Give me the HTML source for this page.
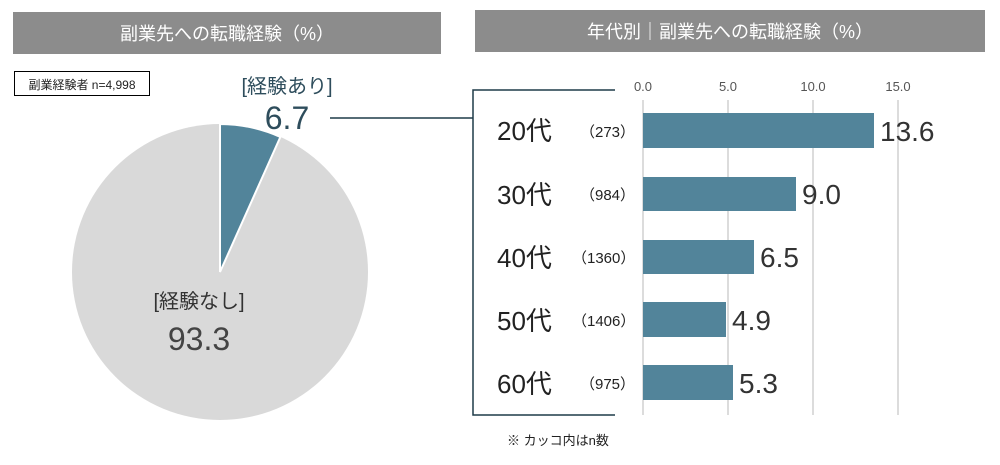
<!DOCTYPE html>
<html><head><meta charset="utf-8"><style>
body{margin:0;width:1000px;height:460px;background:#fff;overflow:hidden;font-family:"Liberation Sans","Noto Sans CJK JP",sans-serif}
</style></head><body>
<svg width="1000" height="460" xmlns="http://www.w3.org/2000/svg" font-family="Liberation Sans, Noto Sans CJK JP, sans-serif">
<rect x="13" y="12" width="428" height="42" fill="#8c8c8c"/>
<text x="227" y="40" fill="#fff" font-size="18" text-anchor="middle">副業先への転職経験（%）</text>
<rect x="475" y="10" width="510" height="42" fill="#8c8c8c"/>
<text x="730" y="38" fill="#fff" font-size="18" text-anchor="middle">年代別｜副業先への転職経験（%）</text>
<rect x="14.5" y="71.5" width="135" height="24" fill="#fff" stroke="#000"/>
<text x="82" y="89" font-size="12" text-anchor="middle" fill="#222">副業経験者 n=4,998</text>
<circle cx="220" cy="272" r="148" fill="#d9d9d9"/>
<path d="M220,272 L220,124 A148,148 0 0 1 280.4,136.9 Z" fill="#52849a" stroke="#fff" stroke-width="2"/>
<text x="287" y="93" font-size="20" fill="#2e4d5c" text-anchor="middle">[経験あり]</text>
<text x="287" y="129" font-size="32" fill="#2e4d5c" text-anchor="middle">6.7</text>
<text x="199" y="308" font-size="20" fill="#333" text-anchor="middle">[経験なし]</text>
<text x="199" y="350" font-size="32" fill="#444" text-anchor="middle">93.3</text>
<path d="M330,118 H473 M615,90 H473 V415 H615" stroke="#1f3b48" stroke-width="1.5" fill="none"/>
<g stroke="#d0d0d0" stroke-width="1.5">
<line x1="643" y1="100" x2="643" y2="415"/><line x1="728" y1="100" x2="728" y2="415"/>
<line x1="813" y1="100" x2="813" y2="415"/><line x1="898" y1="100" x2="898" y2="415"/></g>
<g font-size="13" fill="#555" text-anchor="middle">
<text x="643" y="91">0.0</text><text x="728" y="91">5.0</text><text x="813" y="91">10.0</text><text x="898" y="91">15.0</text></g>
<g fill="#52849a">
<rect x="643" y="113" width="231" height="35"/><rect x="643" y="177" width="153" height="34"/>
<rect x="643" y="240" width="111" height="34"/><rect x="643" y="302" width="83" height="35"/>
<rect x="643" y="365" width="90" height="35"/></g>
<g font-size="26" fill="#222">
<text x="497" y="140">20代</text><text x="497" y="204">30代</text><text x="497" y="267">40代</text><text x="497" y="330">50代</text><text x="497" y="393">60代</text></g>
<g font-size="15" fill="#222">
<text x="580" y="137">（273）</text><text x="580" y="200">（984）</text><text x="572" y="263">（1360）</text><text x="572" y="326">（1406）</text><text x="580" y="389">（975）</text></g>
<g font-size="28" fill="#333">
<text x="880" y="141">13.6</text><text x="802" y="204">9.0</text><text x="760" y="267">6.5</text><text x="732" y="330">4.9</text><text x="739" y="393">5.3</text></g>
<text x="507" y="445" font-size="13" fill="#222">※ カッコ内はn数</text>
</svg>
</body></html>
